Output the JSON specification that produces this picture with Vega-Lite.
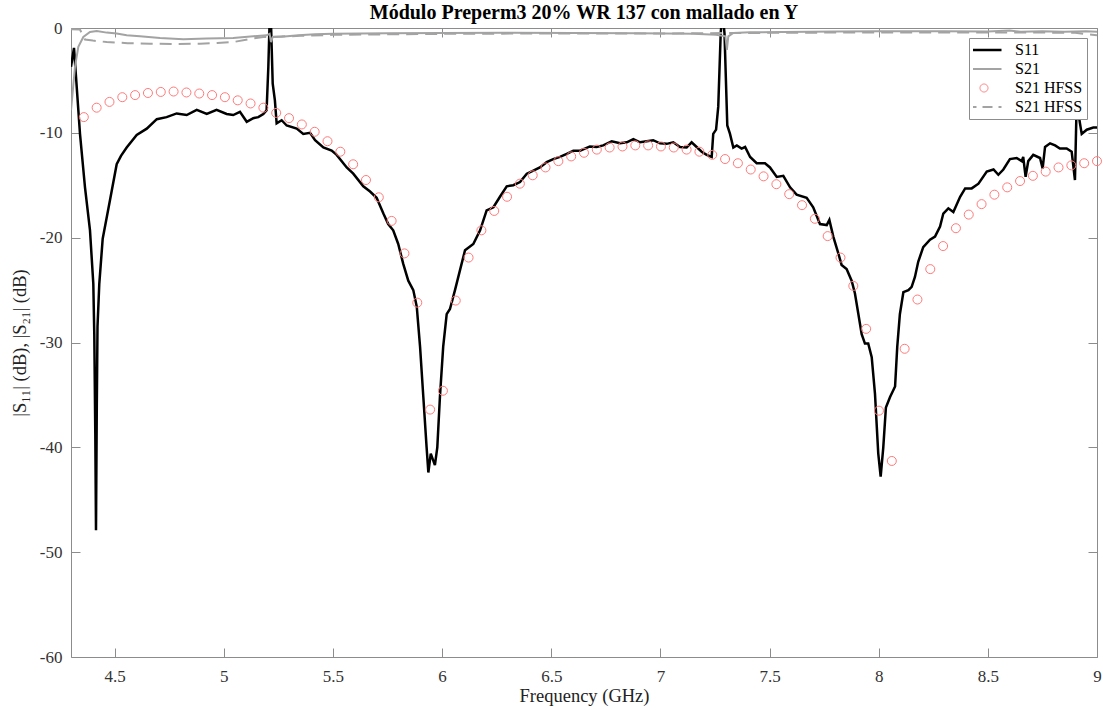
{
  "$schema": "https://vega.github.io/schema/vega-lite/v6.json",
  "width": 1026,
  "height": 629,
  "autosize": {"type": "none"},
  "padding": {"left": 71, "top": 28, "right": 6, "bottom": 53},
  "background": "white",
  "title": {"text": "Módulo Preperm3 20% WR 137 con mallado en Y", "font": "Liberation Serif", "fontSize": 20, "fontWeight": "bold", "color": "#000", "offset": -4, "anchor": "middle"},
  "config": {
    "font": "Liberation Serif",
    "view": {"stroke": "#8c8c8c", "strokeWidth": 1},
    "axis": {"grid": false, "domain": false, "tickColor": "#8c8c8c", "tickSize": -9, "labelFont": "Liberation Serif", "labelFontSize": 17, "labelColor": "#333", "titleFont": "Liberation Serif", "titleFontSize": 18.5, "titleFontWeight": "normal", "titleColor": "#222"}
  },
  "data": {"values": [
    {"s":"S11","f":4.300,"v":-3.7},{"s":"S11","f":4.3137,"v":-1.9},{"s":"S11","f":4.3412,"v":-10.1},{"s":"S11","f":4.3641,"v":-15.2},{"s":"S11","f":4.387,"v":-19.3},{"s":"S11","f":4.4022,"v":-24.4},{"s":"S11","f":4.4067,"v":-29.2},{"s":"S11","f":4.4113,"v":-38.7},{"s":"S11","f":4.4145,"v":-47.9},{"s":"S11","f":4.4182,"v":-36.0},{"s":"S11","f":4.4214,"v":-28.5},{"s":"S11","f":4.4296,"v":-24.4},{"s":"S11","f":4.4452,"v":-20.1},{"s":"S11","f":4.4787,"v":-16.4},{"s":"S11","f":4.5093,"v":-13.0},{"s":"S11","f":4.529,"v":-12.2},{"s":"S11","f":4.555,"v":-11.4},{"s":"S11","f":4.601,"v":-10.2},{"s":"S11","f":4.647,"v":-9.6},{"s":"S11","f":4.693,"v":-8.7},{"s":"S11","f":4.738,"v":-8.5},{"s":"S11","f":4.784,"v":-8.15},{"s":"S11","f":4.83,"v":-8.3},{"s":"S11","f":4.876,"v":-7.8},{"s":"S11","f":4.922,"v":-8.2},{"s":"S11","f":4.967,"v":-7.8},{"s":"S11","f":5.013,"v":-8.2},{"s":"S11","f":5.043,"v":-8.3},{"s":"S11","f":5.074,"v":-8.0},{"s":"S11","f":5.105,"v":-8.95},{"s":"S11","f":5.135,"v":-8.6},{"s":"S11","f":5.158,"v":-8.5},{"s":"S11","f":5.181,"v":-8.2},{"s":"S11","f":5.196,"v":-7.85},{"s":"S11","f":5.204,"v":-3.7},{"s":"S11","f":5.2095,"v":0.4},{"s":"S11","f":5.2165,"v":0.2},{"s":"S11","f":5.224,"v":-5.3},{"s":"S11","f":5.234,"v":-6.9},{"s":"S11","f":5.242,"v":-9.1},{"s":"S11","f":5.265,"v":-8.8},{"s":"S11","f":5.288,"v":-9.3},{"s":"S11","f":5.334,"v":-9.6},{"s":"S11","f":5.364,"v":-10.1},{"s":"S11","f":5.395,"v":-10.0},{"s":"S11","f":5.418,"v":-10.7},{"s":"S11","f":5.456,"v":-11.4},{"s":"S11","f":5.494,"v":-11.7},{"s":"S11","f":5.517,"v":-12.1},{"s":"S11","f":5.563,"v":-13.3},{"s":"S11","f":5.593,"v":-13.9},{"s":"S11","f":5.639,"v":-15.1},{"s":"S11","f":5.67,"v":-15.6},{"s":"S11","f":5.7,"v":-16.2},{"s":"S11","f":5.731,"v":-17.7},{"s":"S11","f":5.753,"v":-18.7},{"s":"S11","f":5.776,"v":-19.3},{"s":"S11","f":5.799,"v":-20.6},{"s":"S11","f":5.822,"v":-22.5},{"s":"S11","f":5.845,"v":-24.1},{"s":"S11","f":5.868,"v":-25.0},{"s":"S11","f":5.884,"v":-26.6},{"s":"S11","f":5.899,"v":-30.4},{"s":"S11","f":5.914,"v":-35.2},{"s":"S11","f":5.929,"v":-40.0},{"s":"S11","f":5.937,"v":-42.4},{"s":"S11","f":5.948,"v":-40.6},{"s":"S11","f":5.967,"v":-41.7},{"s":"S11","f":5.978,"v":-40.0},{"s":"S11","f":5.99,"v":-35.2},{"s":"S11","f":6.005,"v":-30.4},{"s":"S11","f":6.021,"v":-27.3},{"s":"S11","f":6.036,"v":-26.8},{"s":"S11","f":6.059,"v":-25.0},{"s":"S11","f":6.082,"v":-23.1},{"s":"S11","f":6.105,"v":-21.2},{"s":"S11","f":6.143,"v":-20.6},{"s":"S11","f":6.174,"v":-19.3},{"s":"S11","f":6.204,"v":-17.4},{"s":"S11","f":6.235,"v":-17.1},{"s":"S11","f":6.265,"v":-16.1},{"s":"S11","f":6.296,"v":-15.1},{"s":"S11","f":6.326,"v":-15.0},{"s":"S11","f":6.357,"v":-14.7},{"s":"S11","f":6.388,"v":-13.9},{"s":"S11","f":6.418,"v":-13.6},{"s":"S11","f":6.448,"v":-13.3},{"s":"S11","f":6.479,"v":-12.8},{"s":"S11","f":6.509,"v":-12.5},{"s":"S11","f":6.54,"v":-12.3},{"s":"S11","f":6.571,"v":-12.0},{"s":"S11","f":6.601,"v":-11.7},{"s":"S11","f":6.632,"v":-11.7},{"s":"S11","f":6.677,"v":-11.3},{"s":"S11","f":6.708,"v":-11.35},{"s":"S11","f":6.738,"v":-11.2},{"s":"S11","f":6.777,"v":-10.8},{"s":"S11","f":6.815,"v":-11.0},{"s":"S11","f":6.846,"v":-10.9},{"s":"S11","f":6.876,"v":-10.6},{"s":"S11","f":6.907,"v":-10.9},{"s":"S11","f":6.937,"v":-10.8},{"s":"S11","f":6.967,"v":-10.7},{"s":"S11","f":6.998,"v":-11.0},{"s":"S11","f":7.029,"v":-11.05},{"s":"S11","f":7.059,"v":-10.9},{"s":"S11","f":7.09,"v":-11.35},{"s":"S11","f":7.12,"v":-11.4},{"s":"S11","f":7.143,"v":-10.9},{"s":"S11","f":7.166,"v":-11.35},{"s":"S11","f":7.189,"v":-11.8},{"s":"S11","f":7.212,"v":-12.1},{"s":"S11","f":7.235,"v":-12.3},{"s":"S11","f":7.242,"v":-10.1},{"s":"S11","f":7.255,"v":-9.7},{"s":"S11","f":7.265,"v":-7.5},{"s":"S11","f":7.2762,"v":-0.5},{"s":"S11","f":7.2844,"v":1.5},{"s":"S11","f":7.2936,"v":-0.5},{"s":"S11","f":7.3064,"v":-9.3},{"s":"S11","f":7.3188,"v":-10.1},{"s":"S11","f":7.334,"v":-11.4},{"s":"S11","f":7.35,"v":-11.2},{"s":"S11","f":7.372,"v":-11.5},{"s":"S11","f":7.388,"v":-11.35},{"s":"S11","f":7.411,"v":-12.3},{"s":"S11","f":7.441,"v":-12.9},{"s":"S11","f":7.479,"v":-12.9},{"s":"S11","f":7.502,"v":-13.3},{"s":"S11","f":7.533,"v":-14.2},{"s":"S11","f":7.563,"v":-14.1},{"s":"S11","f":7.594,"v":-15.2},{"s":"S11","f":7.624,"v":-15.9},{"s":"S11","f":7.67,"v":-16.2},{"s":"S11","f":7.7,"v":-17.1},{"s":"S11","f":7.731,"v":-18.7},{"s":"S11","f":7.762,"v":-18.8},{"s":"S11","f":7.774,"v":-18.3},{"s":"S11","f":7.792,"v":-19.9},{"s":"S11","f":7.815,"v":-21.5},{"s":"S11","f":7.83,"v":-22.6},{"s":"S11","f":7.853,"v":-23.0},{"s":"S11","f":7.876,"v":-24.1},{"s":"S11","f":7.891,"v":-25.3},{"s":"S11","f":7.907,"v":-27.3},{"s":"S11","f":7.922,"v":-29.2},{"s":"S11","f":7.937,"v":-30.1},{"s":"S11","f":7.952,"v":-30.1},{"s":"S11","f":7.968,"v":-31.4},{"s":"S11","f":7.983,"v":-34.9},{"s":"S11","f":7.998,"v":-40.6},{"s":"S11","f":8.009,"v":-42.8},{"s":"S11","f":8.021,"v":-40.0},{"s":"S11","f":8.033,"v":-36.2},{"s":"S11","f":8.052,"v":-35.2},{"s":"S11","f":8.075,"v":-34.2},{"s":"S11","f":8.085,"v":-30.4},{"s":"S11","f":8.097,"v":-27.3},{"s":"S11","f":8.113,"v":-25.2},{"s":"S11","f":8.136,"v":-25.0},{"s":"S11","f":8.151,"v":-24.7},{"s":"S11","f":8.166,"v":-23.75},{"s":"S11","f":8.181,"v":-22.3},{"s":"S11","f":8.204,"v":-20.9},{"s":"S11","f":8.235,"v":-20.2},{"s":"S11","f":8.258,"v":-19.9},{"s":"S11","f":8.281,"v":-18.95},{"s":"S11","f":8.296,"v":-17.7},{"s":"S11","f":8.319,"v":-17.2},{"s":"S11","f":8.342,"v":-17.55},{"s":"S11","f":8.373,"v":-16.1},{"s":"S11","f":8.396,"v":-15.3},{"s":"S11","f":8.426,"v":-15.3},{"s":"S11","f":8.457,"v":-14.85},{"s":"S11","f":8.495,"v":-13.7},{"s":"S11","f":8.526,"v":-13.5},{"s":"S11","f":8.548,"v":-14.0},{"s":"S11","f":8.571,"v":-13.5},{"s":"S11","f":8.601,"v":-12.5},{"s":"S11","f":8.632,"v":-12.4},{"s":"S11","f":8.655,"v":-12.7},{"s":"S11","f":8.662,"v":-12.3},{"s":"S11","f":8.673,"v":-14.2},{"s":"S11","f":8.685,"v":-12.7},{"s":"S11","f":8.708,"v":-12.1},{"s":"S11","f":8.739,"v":-12.4},{"s":"S11","f":8.751,"v":-13.4},{"s":"S11","f":8.762,"v":-11.35},{"s":"S11","f":8.785,"v":-11.0},{"s":"S11","f":8.808,"v":-11.2},{"s":"S11","f":8.83,"v":-11.5},{"s":"S11","f":8.861,"v":-11.5},{"s":"S11","f":8.884,"v":-11.8},{"s":"S11","f":8.899,"v":-14.5},{"s":"S11","f":8.907,"v":-7.0},{"s":"S11","f":8.922,"v":-9.1},{"s":"S11","f":8.93,"v":-10.1},{"s":"S11","f":8.953,"v":-9.7},{"s":"S11","f":8.983,"v":-9.5},{"s":"S11","f":9.0,"v":-9.5},

    {"s":"S21","f":4.300,"v":-7.85},{"s":"S21","f":4.3183,"v":-3.7},{"s":"S21","f":4.3335,"v":-1.8},{"s":"S21","f":4.3565,"v":-0.86},{"s":"S21","f":4.387,"v":-0.38},{"s":"S21","f":4.4177,"v":-0.29},{"s":"S21","f":4.4635,"v":-0.44},{"s":"S21","f":4.5093,"v":-0.53},{"s":"S21","f":4.555,"v":-0.7},{"s":"S21","f":4.616,"v":-0.79},{"s":"S21","f":4.708,"v":-0.95},{"s":"S21","f":4.815,"v":-1.08},{"s":"S21","f":4.922,"v":-1.0},{"s":"S21","f":5.043,"v":-0.95},{"s":"S21","f":5.135,"v":-0.79},{"s":"S21","f":5.196,"v":-0.7},{"s":"S21","f":5.21,"v":-0.55},{"s":"S21","f":5.216,"v":-1.35},{"s":"S21","f":5.224,"v":-0.86},{"s":"S21","f":5.265,"v":-0.84},{"s":"S21","f":5.342,"v":-0.7},{"s":"S21","f":5.418,"v":-0.6},{"s":"S21","f":5.5,"v":-0.55},{"s":"S21","f":5.75,"v":-0.5},{"s":"S21","f":6.0,"v":-0.48},{"s":"S21","f":6.3,"v":-0.45},{"s":"S21","f":6.6,"v":-0.47},{"s":"S21","f":6.9,"v":-0.5},{"s":"S21","f":7.15,"v":-0.55},{"s":"S21","f":7.255,"v":-0.65},{"s":"S21","f":7.298,"v":-0.8},{"s":"S21","f":7.3045,"v":-2.1},{"s":"S21","f":7.311,"v":-0.8},{"s":"S21","f":7.334,"v":-0.48},{"s":"S21","f":7.411,"v":-0.41},{"s":"S21","f":7.563,"v":-0.38},{"s":"S21","f":7.8,"v":-0.33},{"s":"S21","f":8.0,"v":-0.3},{"s":"S21","f":8.3,"v":-0.32},{"s":"S21","f":8.5,"v":-0.33},{"s":"S21","f":8.6,"v":-0.25},{"s":"S21","f":8.65,"v":-0.36},{"s":"S21","f":8.75,"v":-0.3},{"s":"S21","f":8.85,"v":-0.36},{"s":"S21","f":8.95,"v":-0.32},{"s":"S21","f":9.0,"v":-0.35},

    {"s":"HFSS21","f":4.300,"v":-0.12},{"s":"HFSS21","f":4.341,"v":-0.15},{"s":"HFSS21","f":4.364,"v":-1.1},{"s":"HFSS21","f":4.40,"v":-1.2},{"s":"HFSS21","f":4.4635,"v":-1.34},{"s":"HFSS21","f":4.56,"v":-1.45},{"s":"HFSS21","f":4.662,"v":-1.5},{"s":"HFSS21","f":4.78,"v":-1.52},{"s":"HFSS21","f":4.891,"v":-1.5},{"s":"HFSS21","f":4.97,"v":-1.42},{"s":"HFSS21","f":5.043,"v":-1.34},{"s":"HFSS21","f":5.135,"v":-1.0},{"s":"HFSS21","f":5.181,"v":-0.86},{"s":"HFSS21","f":5.25,"v":-0.82},{"s":"HFSS21","f":5.35,"v":-0.75},{"s":"HFSS21","f":5.5,"v":-0.65},{"s":"HFSS21","f":6.0,"v":-0.56},{"s":"HFSS21","f":6.5,"v":-0.52},{"s":"HFSS21","f":7.0,"v":-0.52},{"s":"HFSS21","f":7.5,"v":-0.46},{"s":"HFSS21","f":8.0,"v":-0.42},{"s":"HFSS21","f":8.5,"v":-0.42},{"s":"HFSS21","f":8.9,"v":-0.45},{"s":"HFSS21","f":9.0,"v":-0.7},

    {"s":"HFSS11","f":4.35875,"v":-8.5},{"s":"HFSS11","f":4.4175,"v":-7.6},{"s":"HFSS11","f":4.47625,"v":-7.05},{"s":"HFSS11","f":4.535,"v":-6.6},{"s":"HFSS11","f":4.59375,"v":-6.4},{"s":"HFSS11","f":4.6525,"v":-6.2},{"s":"HFSS11","f":4.71125,"v":-6.1},{"s":"HFSS11","f":4.77,"v":-6.06},{"s":"HFSS11","f":4.82875,"v":-6.15},{"s":"HFSS11","f":4.8875,"v":-6.25},{"s":"HFSS11","f":4.94625,"v":-6.4},{"s":"HFSS11","f":5.005,"v":-6.6},{"s":"HFSS11","f":5.06375,"v":-6.9},{"s":"HFSS11","f":5.1225,"v":-7.2},{"s":"HFSS11","f":5.18125,"v":-7.6},{"s":"HFSS11","f":5.24,"v":-8.1},{"s":"HFSS11","f":5.29875,"v":-8.6},{"s":"HFSS11","f":5.3575,"v":-9.2},{"s":"HFSS11","f":5.41625,"v":-9.9},{"s":"HFSS11","f":5.475,"v":-10.8},{"s":"HFSS11","f":5.53375,"v":-11.8},{"s":"HFSS11","f":5.5925,"v":-13.0},{"s":"HFSS11","f":5.65125,"v":-14.5},{"s":"HFSS11","f":5.71,"v":-16.15},{"s":"HFSS11","f":5.76875,"v":-18.4},{"s":"HFSS11","f":5.8275,"v":-21.5},{"s":"HFSS11","f":5.88625,"v":-26.2},{"s":"HFSS11","f":5.945,"v":-36.4},{"s":"HFSS11","f":6.00375,"v":-34.6},{"s":"HFSS11","f":6.0625,"v":-26.0},{"s":"HFSS11","f":6.12125,"v":-21.9},{"s":"HFSS11","f":6.18,"v":-19.3},{"s":"HFSS11","f":6.23875,"v":-17.45},{"s":"HFSS11","f":6.2975,"v":-16.1},{"s":"HFSS11","f":6.35625,"v":-14.85},{"s":"HFSS11","f":6.415,"v":-14.05},{"s":"HFSS11","f":6.47375,"v":-13.3},{"s":"HFSS11","f":6.5325,"v":-12.7},{"s":"HFSS11","f":6.59125,"v":-12.25},{"s":"HFSS11","f":6.65,"v":-11.9},{"s":"HFSS11","f":6.70875,"v":-11.6},{"s":"HFSS11","f":6.7675,"v":-11.4},{"s":"HFSS11","f":6.82625,"v":-11.3},{"s":"HFSS11","f":6.885,"v":-11.2},{"s":"HFSS11","f":6.94375,"v":-11.2},{"s":"HFSS11","f":7.0025,"v":-11.3},{"s":"HFSS11","f":7.06125,"v":-11.4},{"s":"HFSS11","f":7.12,"v":-11.6},{"s":"HFSS11","f":7.17875,"v":-11.8},{"s":"HFSS11","f":7.2375,"v":-12.1},{"s":"HFSS11","f":7.29625,"v":-12.5},{"s":"HFSS11","f":7.355,"v":-12.9},{"s":"HFSS11","f":7.41375,"v":-13.5},{"s":"HFSS11","f":7.4725,"v":-14.15},{"s":"HFSS11","f":7.53125,"v":-14.9},{"s":"HFSS11","f":7.59,"v":-15.85},{"s":"HFSS11","f":7.64875,"v":-16.9},{"s":"HFSS11","f":7.7075,"v":-18.2},{"s":"HFSS11","f":7.76625,"v":-19.85},{"s":"HFSS11","f":7.825,"v":-21.9},{"s":"HFSS11","f":7.88375,"v":-24.6},{"s":"HFSS11","f":7.9425,"v":-28.7},{"s":"HFSS11","f":8.00125,"v":-36.5},{"s":"HFSS11","f":8.06,"v":-41.3},{"s":"HFSS11","f":8.11875,"v":-30.6},{"s":"HFSS11","f":8.1775,"v":-25.9},{"s":"HFSS11","f":8.23625,"v":-23.0},{"s":"HFSS11","f":8.295,"v":-20.8},{"s":"HFSS11","f":8.35375,"v":-19.1},{"s":"HFSS11","f":8.4125,"v":-17.8},{"s":"HFSS11","f":8.47125,"v":-16.8},{"s":"HFSS11","f":8.53,"v":-15.9},{"s":"HFSS11","f":8.58875,"v":-15.2},{"s":"HFSS11","f":8.6475,"v":-14.6},{"s":"HFSS11","f":8.70625,"v":-14.1},{"s":"HFSS11","f":8.765,"v":-13.7},{"s":"HFSS11","f":8.82375,"v":-13.3},{"s":"HFSS11","f":8.8825,"v":-13.1},{"s":"HFSS11","f":8.94125,"v":-12.9},{"s":"HFSS11","f":9.0,"v":-12.7}
  ]},
  "resolve": {"axis": {"x": "independent", "y": "independent"}},
  "layer": [
    {
      "transform": [{"filter": "datum.s === 'S11'"}],
      "mark": {"type": "line", "strokeWidth": 2.5, "clip": true},
      "encoding": {
        "x": {"field": "f", "type": "quantitative", "scale": {"domain": [4.3, 9], "nice": false, "zero": false},
              "axis": {"orient": "bottom", "title": "Frequency (GHz)", "values": [4.5,5,5.5,6,6.5,7,7.5,8,8.5,9], "labelExpr": "'' + datum.value", "labelPadding": 20, "titlePadding": 2, "labelFlush": false}},
        "y": {"field": "v", "type": "quantitative", "scale": {"domain": [-60, 0], "nice": false, "zero": false},
              "axis": {"orient": "left", "title": "|S₁₁| (dB), |S₂₁| (dB)", "values": [-60,-50,-40,-30,-20,-10,0], "labelExpr": "'' + datum.value", "labelPadding": 18, "titlePadding": 10}},
        "color": {"field": "s", "type": "nominal",
                  "scale": {"domain": ["S11", "S21", "HFSS11", "HFSS21"], "range": ["#000000", "#a3a3a3", "#ff7a7a", "#a3a3a3"]},
                  "legend": {"title": null, "orient": "top-right", "offset": 10, "symbolType": "stroke", "symbolSize": 1225, "clipHeight": 16, "rowPadding": 3, "padding": 4, "labelOffset": 23, "symbolOffset": 3,
                             "strokeColor": "#8c8c8c", "fillColor": "white", "labelFont": "Liberation Serif", "labelFontSize": 16, "labelColor": "#000",
                             "labelExpr": "datum.value === 'S11' ? 'S11' : (datum.value === 'S21' ? 'S21' : 'S21 HFSS')",
                             "encode": {"symbols": {"update": {
                               "shape": {"signal": "datum.value === 'HFSS11' ? 'circle' : 'stroke'"},
                               "size": {"signal": "datum.value === 'HFSS11' ? 64 : 1225"},
                               "strokeDash": {"signal": "datum.value === 'HFSS21' ? [10,6] : [1,0]"},
                               "strokeWidth": {"signal": "datum.value === 'S11' ? 2.5 : (datum.value === 'HFSS11' ? 1 : 2)"},
                               "fill": {"value": "transparent"},
                               "stroke": {"scale": "color", "field": "value"},
                               "opacity": {"value": 1}
                             }}}}}
      }
    },
    {
      "transform": [{"filter": "datum.s === 'S21'"}],
      "mark": {"type": "line", "strokeWidth": 2, "clip": true},
      "encoding": {
        "x": {"field": "f", "type": "quantitative", "axis": {"orient": "top", "labels": false, "title": null, "values": [4.5,5,5.5,6,6.5,7,7.5,8,8.5,9]}},
        "y": {"field": "v", "type": "quantitative", "axis": {"orient": "right", "labels": false, "title": null, "values": [-60,-50,-40,-30,-20,-10,0]}},
        "color": {"field": "s", "type": "nominal"}
      }
    },
    {
      "transform": [{"filter": "datum.s === 'HFSS21'"}],
      "mark": {"type": "line", "strokeWidth": 2, "strokeDash": [12, 7], "clip": true},
      "encoding": {
        "x": {"field": "f", "type": "quantitative", "axis": null},
        "y": {"field": "v", "type": "quantitative", "axis": null},
        "color": {"field": "s", "type": "nominal"}
      }
    },
    {
      "transform": [{"filter": "datum.s === 'HFSS11'"}],
      "mark": {"type": "point", "shape": "circle", "filled": false, "size": 81, "strokeWidth": 1, "opacity": 1},
      "encoding": {
        "x": {"field": "f", "type": "quantitative", "axis": null},
        "y": {"field": "v", "type": "quantitative", "axis": null},
        "color": {"field": "s", "type": "nominal"}
      }
    }
  ]
}
